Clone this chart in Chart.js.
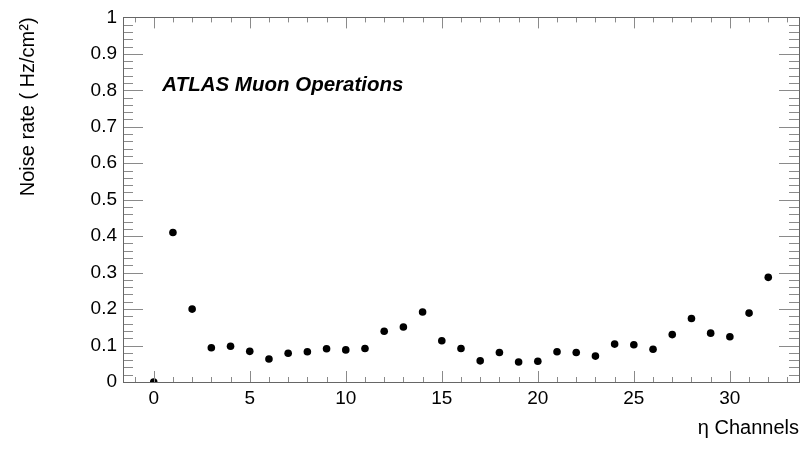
<!DOCTYPE html>
<html>
<head>
<meta charset="utf-8">
<script src="https://cdn.jsdelivr.net/npm/chart.js@4.4.1/dist/chart.umd.min.js"></script>
<style>
  html, body { margin: 0; padding: 0; background: #fff; }
  #wrap { width: 804px; height: 450px; }
</style>
</head>
<body>
<div id="wrap"><canvas id="noiseChart" width="804" height="450"></canvas></div>
<script>
// eta channel numbers and measured noise rate per channel (Hz/cm2)
const channels = [0, 1, 2, 3, 4, 5, 6, 7, 8, 9, 10, 11, 12, 13, 14, 15, 16,
                  17, 18, 19, 20, 21, 22, 23, 24, 25, 26, 27, 28, 29, 30, 31, 32];
const noiseRate = [0.0, 0.41, 0.20, 0.094, 0.098, 0.084, 0.063, 0.079, 0.083, 0.091, 0.088,
                   0.092, 0.139, 0.151, 0.192, 0.113, 0.092, 0.058, 0.081, 0.055, 0.057,
                   0.083, 0.081, 0.071, 0.104, 0.102, 0.090, 0.130, 0.174, 0.134, 0.124,
                   0.189, 0.287];

const xTicks = [0, 5, 10, 15, 20, 25, 30];
const yTicks = [0, 0.1, 0.2, 0.3, 0.4, 0.5, 0.6, 0.7, 0.8, 0.9, 1];
const yTickLabels = ['0', '0.1', '0.2', '0.3', '0.4', '0.5', '0.6', '0.7', '0.8', '0.9', '1'];

const xMin = -1.6, xMax = 33.6;
const points = channels.map((c, i) => ({ x: c, y: noiseRate[i] }));

const fontFamily = 'Liberation Sans, Arial, Helvetica, sans-serif';
const tickFont = { family: fontFamily, size: 19 };

// ROOT-style frame with inward ticks on all four sides
const frameTicks = {
  id: 'frameTicks',
  afterDatasetsDraw(chart) {
    const { ctx, chartArea: a, scales: { x, y } } = chart;
    ctx.save();
    ctx.strokeStyle = '#8a8a8a';
    ctx.lineWidth = 1;
    ctx.beginPath();
    for (let v = Math.ceil(xMin); v <= xMax; v++) {
      const px = Math.round(x.getPixelForValue(v)) + 0.5;
      const len = v % 5 === 0 ? 11 : 5;
      ctx.moveTo(px, a.bottom); ctx.lineTo(px, a.bottom - len);
      ctx.moveTo(px, a.top); ctx.lineTo(px, a.top + len);
    }
    for (let k = 0; k <= 50; k++) {
      const py = Math.round(y.getPixelForValue(k * 0.02)) + 0.5;
      const len = k % 5 === 0 ? 20 : 10;
      ctx.moveTo(a.left, py); ctx.lineTo(a.left + len, py);
      ctx.moveTo(a.right, py); ctx.lineTo(a.right - len, py);
    }
    ctx.stroke();
    ctx.strokeStyle = '#666';
    ctx.strokeRect(Math.round(a.left) + 0.5, Math.round(a.top) + 0.5,
                   Math.round(a.right - a.left), Math.round(a.bottom - a.top));
    ctx.fillStyle = '#000';
    ctx.font = 'italic bold 20.5px "Liberation Sans", Arial, sans-serif';
    ctx.textBaseline = 'alphabetic';
    ctx.fillText('ATLAS Muon Operations', x.getPixelForValue(0.45), y.getPixelForValue(0.8) + 1);
    ctx.restore();
  }
};

new Chart(document.getElementById('noiseChart'), {
  type: 'scatter',
  data: {
    datasets: [{
      data: points,
      backgroundColor: '#000',
      borderColor: '#000',
      pointRadius: 3.8,
      pointHoverRadius: 3.8,
      borderWidth: 0
    }]
  },
  options: {
    responsive: false,
    animation: false,
    layout: { padding: { top: 11, right: 5, left: 0, bottom: 0 } },
    plugins: { legend: { display: false }, tooltip: { enabled: false } },
    scales: {
      x: {
        type: 'linear',
        min: xMin,
        max: xMax,
        grid: { display: false, drawTicks: false },
        border: { display: false },
        afterBuildTicks: s => { s.ticks = xTicks.map(v => ({ value: v })); },
        afterFit: s => { s.height = 68; },
        ticks: { color: '#000', font: tickFont, padding: 5, maxRotation: 0 },
        title: {
          display: true,
          text: 'η Channels',
          align: 'end',
          color: '#000',
          font: { family: fontFamily, size: 20 },
          padding: { top: 0, bottom: 10 }
        }
      },
      y: {
        min: 0,
        max: 1,
        grid: { display: false, drawTicks: false },
        border: { display: false },
        afterBuildTicks: s => { s.ticks = yTicks.map(v => ({ value: v })); },
        afterFit: s => { s.width = 123; },
        ticks: {
          color: '#000',
          font: tickFont,
          padding: 6,
          callback: (v, i) => yTickLabels[i]
        },
        title: {
          display: true,
          text: 'Noise rate ( Hz/cm²)',
          align: 'end',
          color: '#000',
          font: { family: fontFamily, size: 20 },
          padding: { top: 16, bottom: 0 }
        }
      }
    }
  },
  plugins: [frameTicks]
});
</script>
</body>
</html>
